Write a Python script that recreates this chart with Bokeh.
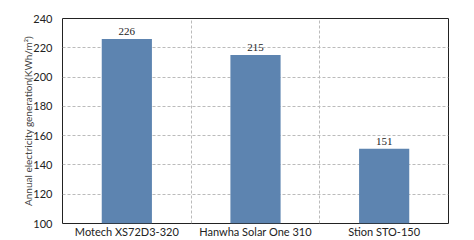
from bokeh.plotting import figure
from bokeh.models import FixedTicker, Range1d, Grid, ColumnDataSource, LabelSet
from bokeh.embed import file_html
from bokeh.resources import INLINE

categories = ["Motech XS72D3-320", "Hanwha Solar One 310", "Stion STO-150"]
values = [226, 215, 151]
y_ticks = [100, 120, 140, 160, 180, 200, 220, 240]

FONT = "Lato"
xs = [i + 0.5 for i in range(len(categories))]
src = ColumnDataSource(dict(x=xs, top=values, lab=[str(v) for v in values]))

p = figure(width=474, height=240, output_backend="svg", toolbar_location=None,
           x_range=Range1d(0, len(categories)), y_range=Range1d(100, 240),
           min_border_left=62, min_border_right=26, min_border_top=18, min_border_bottom=0)
p.background_fill_color = "white"
p.border_fill_color = "white"
p.outline_line_color = "#222222"
p.outline_line_width = 1

p.vbar(x="x", top="top", bottom=100, width=0.39, source=src,
       fill_color="#5d84b0", line_color=None)

labels = LabelSet(x="x", y="top", text="lab", source=src, text_align="center",
                  text_baseline="bottom", y_offset=4, text_font_size="11px",
                  text_color="#222222", text_font=FONT)
p.add_layout(labels)

p.yaxis.ticker = FixedTicker(ticks=y_ticks)
p.xaxis.ticker = FixedTicker(ticks=xs)
p.xaxis.major_label_overrides = {x: c for x, c in zip(xs, categories)}
for ax in (p.xaxis[0], p.yaxis[0]):
    ax.axis_line_color = None
    ax.major_tick_line_color = None
    ax.minor_tick_line_color = None
    ax.major_tick_out = 0
    ax.major_tick_in = 0
    ax.minor_tick_out = 0
    ax.major_label_text_font = FONT
    ax.major_label_text_color = "#222222"
    ax.major_label_text_font_size = "11px"
p.xaxis.major_label_standoff = 1
p.yaxis.major_label_standoff = 10
p.yaxis.axis_label = "Annual electricity generation(KWh/m²)"
p.yaxis.axis_label_text_font = FONT
p.yaxis.axis_label_text_font_size = "10px"
p.yaxis.axis_label_text_font_style = "normal"
p.yaxis.axis_label_standoff = -4

p.ygrid.grid_line_color = "#bbbbbb"
p.ygrid.grid_line_dash = "3 2"
p.xgrid.visible = False
vg = Grid(dimension=0, ticker=FixedTicker(ticks=[1, 2]), grid_line_color="#bbbbbb",
          grid_line_dash="3 2")
p.add_layout(vg)

open("out.html", "w").write(file_html(p, INLINE))
